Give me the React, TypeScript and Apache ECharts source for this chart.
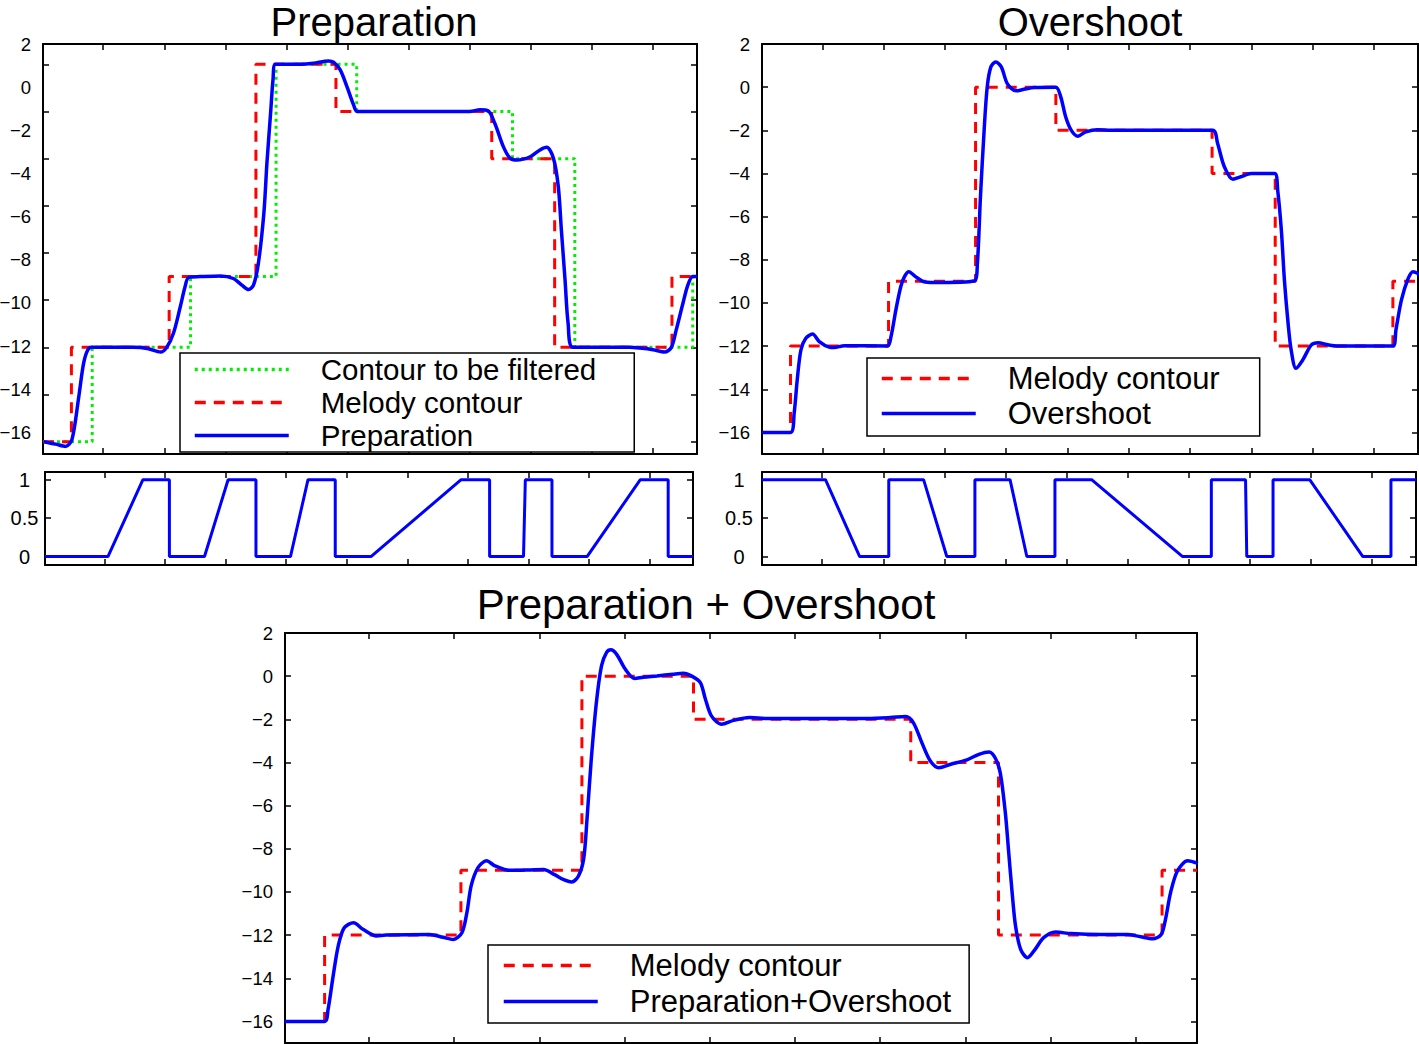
import React, { useEffect, useRef } from 'react';
import * as echarts from 'echarts';

// ---------- data ----------
const X_MIN = 0.015;
const X_MAX = 10.72;
const xTicks = [1, 2, 3, 4, 5, 6, 7, 8, 9, 10];

const mainYLabels = [2, 0, -2, -4, -6, -8, -10, -12, -14, -16];
const prepYTicks = [0, -2, -4, -6, -8, -10, -12, -14, -16];
const switchYLabels = [0, 0.5, 1];

// melody contour (step changes: time, new value)
const melodyT = [0.015, 0.48, 2.08, 3.5, 4.81, 7.36, 8.39, 10.31, 10.72];
const melodyV = [-16, -12, -9, 0, -2, -4, -12, -9, -9];

// contour to be filtered (delayed melody)
const filteredT = [0.015, 0.82, 2.43, 3.83, 5.15, 7.7, 8.72, 10.65, 10.72];
const filteredV = [-16, -12, -9, 0, -2, -4, -12, -9, -9];

// preparation curve
const prepT = [0.03, 0.22, 0.385, 0.49, 0.6, 0.68, 0.75, 0.82, 1.5, 1.72, 1.94, 2.04, 2.15, 2.26, 2.34, 2.4, 2.59, 2.92, 3.13, 3.27, 3.38, 3.46, 3.54, 3.63, 3.68, 3.74, 3.78, 3.82, 4.23, 4.44, 4.69, 4.77, 4.88, 4.99, 5.1, 5.16, 7.0, 7.17, 7.3, 7.41, 7.55, 7.66, 7.77, 7.99, 8.15, 8.26, 8.37, 8.45, 8.5, 8.56, 8.61, 8.69, 9.62, 9.78, 10.0, 10.19, 10.3, 10.38, 10.49, 10.57, 10.65, 10.72];
const prepV = [-16.0, -16.1, -16.2, -15.9, -14.1, -12.67, -12.1, -12.0, -12.0, -12.05, -12.2, -12.0, -11.4, -10.3, -9.43, -9.03, -9.0, -8.97, -9.08, -9.36, -9.55, -9.36, -8.44, -6.32, -4.2, -2.08, -0.65, 0, 0, 0.04, 0.14, 0.09, -0.24, -0.95, -1.73, -2.0, -2.0, -1.93, -1.97, -2.5, -3.49, -3.98, -4.06, -3.92, -3.63, -3.52, -3.98, -5.19, -7.02, -9.14, -10.98, -12.0, -12.0, -12.03, -12.1, -12.2, -12.0, -11.26, -10.13, -9.36, -9.0, -9.0];

// overshoot curve
const overT = [0.015, 0.48, 0.54, 0.59, 0.65, 0.73, 0.84, 0.95, 1.11, 1.19, 1.36, 2.06, 2.12, 2.2, 2.28, 2.34, 2.41, 2.52, 2.65, 2.82, 3.48, 3.53, 3.58, 3.64, 3.69, 3.75, 3.83, 3.92, 4.02, 4.16, 4.29, 4.46, 4.81, 4.89, 4.97, 5.06, 5.17, 5.3, 5.49, 5.71, 7.37, 7.45, 7.56, 7.7, 7.83, 8.0, 8.38, 8.43, 8.49, 8.54, 8.6, 8.65, 8.73, 8.84, 8.98, 9.09, 9.25, 9.42, 10.31, 10.36, 10.45, 10.56, 10.64, 10.74];
const overV = [-16, -16, -15.1, -13.56, -12.18, -11.64, -11.44, -11.79, -12.05, -12.07, -11.98, -12.0, -11.56, -10.32, -9.24, -8.78, -8.55, -8.78, -9.01, -9.05, -8.98, -8.16, -5.08, -1.99, 0, 0.94, 1.17, 0.94, 0.15, -0.17, -0.1, -0.02, 0, -0.45, -1.37, -1.99, -2.27, -2.07, -1.97, -2.0, -2.0, -2.61, -3.69, -4.27, -4.15, -4.0, -4.0, -4.77, -6.62, -8.94, -10.94, -12.18, -13.03, -12.64, -11.94, -11.84, -11.94, -12.0, -12.0, -11.25, -9.86, -8.86, -8.55, -8.67];

// preparation + overshoot curve
const bothT = [0.01, 0.48, 0.52, 0.58, 0.64, 0.71, 0.82, 0.93, 1.09, 1.2, 1.71, 1.87, 1.99, 2.09, 2.15, 2.2, 2.28, 2.38, 2.48, 2.65, 2.89, 3.05, 3.18, 3.28, 3.38, 3.46, 3.52, 3.56, 3.61, 3.67, 3.73, 3.79, 3.84, 3.91, 4.01, 4.12, 4.22, 4.38, 4.57, 4.69, 4.79, 4.89, 4.95, 5.02, 5.14, 5.28, 5.47, 5.67, 6.85, 7.12, 7.3, 7.39, 7.49, 7.59, 7.69, 7.83, 8.02, 8.16, 8.28, 8.35, 8.41, 8.47, 8.51, 8.55, 8.59, 8.65, 8.73, 8.82, 8.92, 9.06, 9.24, 9.59, 9.9, 10.06, 10.2, 10.3, 10.35, 10.41, 10.49, 10.61, 10.73];
const bothV = [-16, -16, -15.45, -13.9, -12.5, -11.66, -11.43, -11.73, -12.04, -12.0, -11.97, -12.1, -12.2, -11.9, -10.96, -9.72, -8.87, -8.56, -8.79, -9.0, -8.98, -8.96, -9.2, -9.42, -9.54, -9.26, -8.49, -6.63, -3.85, -1.22, 0.48, 1.1, 1.22, 1.0, 0.32, -0.11, -0.05, 0.01, 0.09, 0.13, 0.0, -0.3, -1.07, -1.84, -2.23, -2.05, -1.92, -1.96, -1.96, -1.92, -1.87, -2.15, -3.08, -3.93, -4.24, -4.08, -3.88, -3.62, -3.51, -3.78, -4.47, -6.32, -8.18, -10.03, -11.58, -12.66, -13.05, -12.66, -12.12, -11.86, -11.93, -11.97, -11.97, -12.08, -12.17, -11.97, -11.27, -10.03, -9.03, -8.56, -8.68];

// switching weights
const prepSwT = [0.015, 1.055, 1.633, 2.07, 2.07, 2.65, 3.04, 3.5, 3.5, 4.07, 4.36, 4.81, 4.81, 5.4, 6.89, 7.36, 7.36, 7.92, 7.95, 8.39, 8.39, 8.97, 9.85, 10.31, 10.31, 10.72];
const prepSwV = [0, 0, 1, 1, 0, 0, 1, 1, 0, 0, 1, 1, 0, 0, 1, 1, 0, 0, 1, 1, 0, 0, 1, 1, 0, 0];
const overSwT = [0.015, 1.054, 1.614, 2.09, 2.09, 2.66, 3.04, 3.5, 3.5, 4.075, 4.35, 4.81, 4.81, 5.41, 6.9, 7.37, 7.37, 7.93, 7.95, 8.38, 8.38, 8.98, 9.85, 10.31, 10.31, 10.72];
const overSwV = [1, 1, 0, 0, 1, 1, 0, 0, 1, 1, 0, 0, 1, 1, 0, 0, 1, 1, 0, 0, 1, 1, 0, 0, 1, 1];

// ---------- styling helpers ----------
const FONT = '"Liberation Sans", Arial, Helvetica, sans-serif';
const BLACK = '#000';
const RED = '#ff0000';
const BLUE = '#0000ff';
const GREEN = '#00ee00';

const zip = (t: number[], v: number[]) => t.map((x, i) => [x, v[i]]);
const fmt = (v: number) => String(v).replace('-', '\u2212');

const axisLine = { show: true, onZero: false, lineStyle: { color: BLACK, width: 2 } };
const tickStyle = { color: BLACK, width: 1.5 };

function xAxesFor(grid: number) {
  const base: any = {
    type: 'value',
    gridIndex: grid,
    min: X_MIN,
    max: X_MAX,
    axisLine,
    axisTick: { show: true, inside: true, length: 6, customValues: xTicks, lineStyle: tickStyle },
    axisLabel: { show: false },
    splitLine: { show: false },
  };
  return [
    { ...base, position: 'bottom' },
    { ...base, position: 'top' },
  ];
}

function yAxesFor(grid: number, min: number, max: number, ticks: number[], labels: number[] | null, labelOpts: any = {}) {
  const base: any = {
    type: 'value',
    gridIndex: grid,
    min,
    max,
    axisLine,
    axisTick: { show: true, inside: true, length: 6, customValues: ticks, lineStyle: tickStyle },
    splitLine: { show: false },
  };
  return [
    {
      ...base,
      position: 'left',
      axisLabel: labels
        ? { show: true, customValues: labels, formatter: fmt, margin: 12, fontSize: 18.5, fontFamily: FONT, color: BLACK, ...labelOpts }
        : { show: false },
    },
    { ...base, position: 'right', axisLabel: { show: false } },
  ];
}

const gridDefs = [
  { left: 43, top: 44, width: 654, height: 410 }, // Preparation
  { left: 762, top: 44, width: 656, height: 410 }, // Overshoot
  { left: 45, top: 472, width: 648, height: 93 }, // prep weight
  { left: 762, top: 472, width: 654, height: 93 }, // overshoot weight
  { left: 285, top: 633, width: 912, height: 410 }, // combined
];

const redStyle = { color: RED, width: 3, type: [11, 8] as any };
const greenStyle = { color: GREEN, width: 3, type: [3, 4] as any };
const blueStyle = { color: BLUE, width: 3.5 };

function stepSeries(name: string, t: number[], v: number[], x: number, y: number, style: any) {
  return {
    type: 'line', name, xAxisIndex: x, yAxisIndex: y, step: 'end', symbol: 'none',
    data: zip(t, v), lineStyle: style, itemStyle: { color: style.color }, z: 2,
  };
}
function curveSeries(name: string, t: number[], v: number[], x: number, y: number, smooth: number | boolean, width = 3.5) {
  return {
    type: 'line', name, xAxisIndex: x, yAxisIndex: y, symbol: 'none', smooth,
    data: zip(t, v), lineStyle: { ...blueStyle, width }, itemStyle: { color: BLUE }, z: 3,
  };
}

function legendFor(left: number, top: number, names: string[], padding: number[], gap: number, fontSize: number, lineHeight: number) {
  return {
    left, top, orient: 'vertical', data: names, selectedMode: false,
    itemWidth: 94, itemHeight: 14, itemGap: gap, padding,
    borderColor: BLACK, borderWidth: 1.5, backgroundColor: '#fff',
    itemStyle: { color: 'rgba(0,0,0,0)', opacity: 0, borderWidth: 0 },
    lineStyle: { width: 3.5 },
    textStyle: { fontSize, fontFamily: FONT, color: BLACK, lineHeight, padding: [0, 0, 0, 27] },
  };
}

const titleStyle = (text: string, size: number) => ({ text, font: `${size}px ${FONT}`, fill: BLACK, align: 'center', verticalAlign: 'middle' });

const option: any = {
  animation: false,
  backgroundColor: '#fff',
  textStyle: { fontFamily: FONT },
  grid: gridDefs.map((g) => ({ ...g, show: false, containLabel: false, outerBoundsMode: 'none' })),
  xAxis: [
    ...xAxesFor(0), ...xAxesFor(1), ...xAxesFor(2), ...xAxesFor(3), ...xAxesFor(4),
  ],
  yAxis: [
    ...yAxesFor(0, -16.52, 0.86, prepYTicks, null), // 0,1
    ...yAxesFor(1, -17, 2, mainYLabels, mainYLabels), // 2,3
    ...yAxesFor(2, -0.11, 1.1, switchYLabels, switchYLabels, { align: 'center', margin: 20.5, fontSize: 20 }), // 4,5
    ...yAxesFor(3, -0.11, 1.1, switchYLabels, switchYLabels, { align: 'center', margin: 23, fontSize: 20 }), // 6,7
    ...yAxesFor(4, -17, 2, mainYLabels, mainYLabels), // 8,9
    {
      // tick labels of the Preparation panel
      type: 'value', gridIndex: 0, min: -17, max: 2, position: 'left',
      axisLine: { show: false }, axisTick: { show: false }, splitLine: { show: false },
      axisLabel: { show: true, customValues: mainYLabels, formatter: fmt, margin: 12, fontSize: 18.5, fontFamily: FONT, color: BLACK },
    }, // 10
  ],
  legend: [
    legendFor(180, 353, ['Contour to be filtered', 'Melody contour', 'Preparation'], [0, 38, 0, 13], 0, 29.5, 33),
    legendFor(867, 358, ['Melody contour', 'Overshoot'], [5, 40, 7, 13], 4, 31, 31),
    legendFor(488, 945, ['Melody contour', 'Preparation+Overshoot'], [5, 18, 6, 14], 5, 31, 31),
  ],
  graphic: [
    { type: 'text', x: 374, y: 22, style: titleStyle('Preparation', 40) },
    { type: 'text', x: 1090, y: 22, style: titleStyle('Overshoot', 40) },
    { type: 'text', x: 706, y: 604, style: titleStyle('Preparation + Overshoot', 42) },
  ],
  series: [
    stepSeries('Contour to be filtered', filteredT, filteredV, 0, 0, greenStyle),
    stepSeries('Melody contour', melodyT, melodyV, 0, 0, redStyle),
    curveSeries('Preparation', prepT, prepV, 0, 0, 0.3),
    stepSeries('Melody contour', melodyT, melodyV, 2, 2, redStyle),
    curveSeries('Overshoot', overT, overV, 2, 2, 0.3),
    curveSeries('prepWeight', prepSwT, prepSwV, 4, 4, false, 3),
    curveSeries('overshootWeight', overSwT, overSwV, 6, 6, false, 3),
    stepSeries('Melody contour', melodyT, melodyV, 8, 8, redStyle),
    curveSeries('Preparation+Overshoot', bothT, bothV, 8, 8, 0.3),
  ],
};

export default function App() {
  const ref = useRef<HTMLDivElement>(null);
  useEffect(() => {
    const chart = echarts.init(ref.current as HTMLDivElement, null, { renderer: 'svg' });
    chart.setOption(option);
    return () => chart.dispose();
  }, []);
  return (
    <div
      ref={ref}
      style={{ position: 'absolute', left: 0, top: 0, width: 1419, height: 1044, background: '#fff' }}
    />
  );
}
